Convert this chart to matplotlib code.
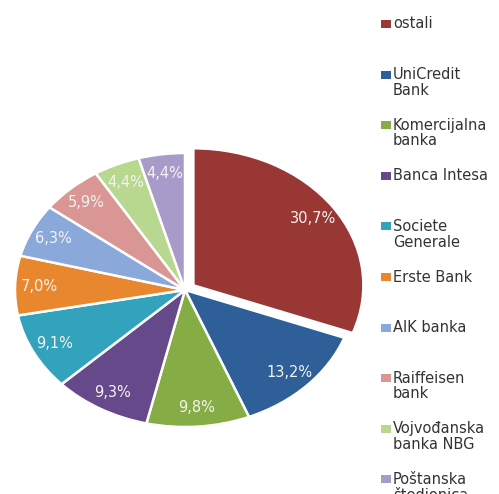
import matplotlib.pyplot as plt
from matplotlib.patches import Rectangle

# ---------------- data ----------------
labels = ['ostali', 'UniCredit\nBank', 'Komercijalna\nbanka', 'Banca Intesa',
          'Societe\nGenerale', 'Erste Bank', 'AIK banka', 'Raiffeisen\nbank',
          'Vojvođanska\nbanka NBG', 'Poštanska\nštedionica']
shares = [30.7, 13.2, 9.8, 9.3, 9.1, 7.0, 6.3, 5.9, 4.4, 4.4]
pct_labels = ['30,7%', '13,2%', '9,8%', '9,3%', '9,1%', '7,0%', '6,3%', '5,9%', '4,4%', '4,4%']
colors = ['#993735', '#2E5F99', '#85AC45', '#65498A', '#33A2BC',
          '#E8872E', '#8AA8DA', '#D99694', '#B8D78F', '#A99BC9']
explode = [0.06, 0, 0, 0, 0, 0, 0, 0, 0, 0]

W, H = 499, 494
fig = plt.figure(figsize=(W / 100, H / 100), dpi=100)

# pie axes, stretched (the original pie is an ellipse)
ax = fig.add_axes([0, 14 / H, 370 / W, 380 / H])
it = iter(pct_labels)
wedges, texts, autotexts = ax.pie(
    shares, colors=colors, explode=explode, startangle=90, counterclock=False,
    autopct=lambda p: next(it), pctdistance=0.86,
    wedgeprops=dict(edgecolor='white', linewidth=1.8),
    textprops=dict(color='#F4F4EE', fontsize=10.5))
ax.set_aspect('auto')
ax.set_xlim(-185 / 170, 185 / 170)
ax.set_ylim(-190 / 137, 190 / 137)

# manual legend on the right
y0 = 24      # px from top, first entry
step = 50.6  # px between entries
for i, (lab, col) in enumerate(zip(labels, colors)):
    yc = y0 + i * step
    fig.patches.append(Rectangle((381 / W, 1 - (yc + 4) / H), 10 / W, 8 / H,
                                 transform=fig.transFigure, facecolor=col,
                                 edgecolor='none'))
    fig.text(393 / W, 1 - (yc - 7.5) / H, lab, ha='left', va='top', fontsize=10.5,
             color='#333333', linespacing=1.05)

fig.savefig('out.png', dpi=100)
